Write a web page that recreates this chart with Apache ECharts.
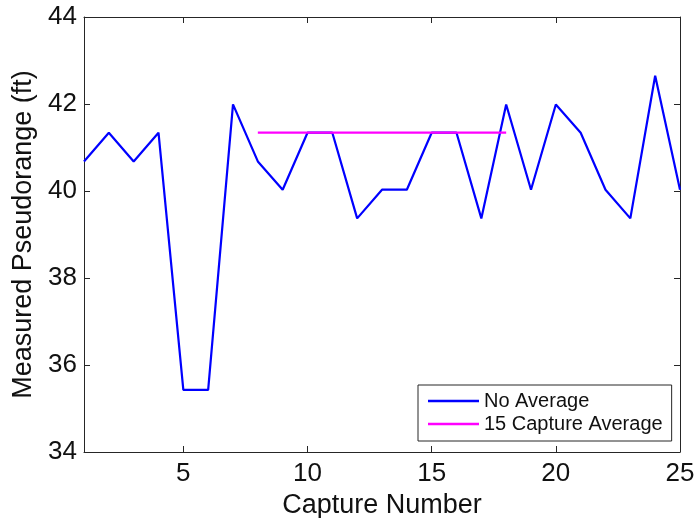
<!DOCTYPE html>
<html>
<head>
<meta charset="utf-8">
<script src="https://cdn.jsdelivr.net/npm/echarts@6/dist/echarts.min.js"></script>
<style>
  html, body { margin: 0; padding: 0; background: #fff; }
  #chart { width: 696px; height: 518px; }
</style>
</head>
<body>
<div id="chart"></div>
<script>
// Capture index and measured pseudorange per capture (ft)
const captureNumbers = [1, 2, 3, 4, 5, 6, 7, 8, 9, 10, 11, 12, 13, 14, 15, 16, 17, 18, 19, 20, 21, 22, 23, 24, 25];
const noAverage = [40.68, 41.34, 40.68, 41.34, 35.43, 35.43, 41.99, 40.68, 40.03, 41.34, 41.34, 39.37, 40.03,
                   40.03, 41.34, 41.34, 39.37, 41.99, 40.03, 41.99, 41.34, 40.03, 39.37, 42.65, 40.03];
// 15-capture average, drawn over its capture span
const averageCaptures = [8, 18];
const averageValues = [41.34, 41.34];
// Tick values
const xTicks = [5, 10, 15, 20, 25];
const yTicks = [34, 36, 38, 40, 42, 44];

const font = '"Liberation Sans", Arial, sans-serif';
const axisColor = '#262626';

const chart = echarts.init(document.getElementById('chart'), null, { renderer: 'canvas' });

const boxAxis = (extra) => Object.assign({
  axisLine: { show: true, onZero: false, lineStyle: { color: axisColor, width: 1 } },
  axisTick: { show: true, inside: true, length: 6, lineStyle: { color: axisColor, width: 1 } },
  splitLine: { show: false },
}, extra);

chart.setOption({
  backgroundColor: '#ffffff',
  animation: false,
  textStyle: { fontFamily: font },
  grid: { left: 84, right: 16, top: 17, bottom: 66, containLabel: false, outerBoundsMode: 'none' },
  legend: {
    orient: 'vertical',
    left: 418,
    top: 385,
    width: 254,
    padding: [6, 9, 7, 10],
    icon: 'rect',
    itemWidth: 51,
    itemHeight: 2.5,
    itemGap: 3,
    backgroundColor: '#ffffff',
    borderColor: axisColor,
    borderWidth: 1,
    borderRadius: 0,
    textStyle: { fontFamily: font, fontSize: 20, color: '#111', padding: [4, 0, 0, 0] },
    data: ['No Average', '15 Capture Average'],
  },
  xAxis: [
    boxAxis({
      type: 'value', min: 1, max: 25, position: 'bottom',
      name: 'Capture Number', nameLocation: 'middle', nameGap: 38,
      nameTextStyle: { fontFamily: font, fontSize: 27, color: '#111' },
      axisTick: { show: true, inside: true, length: 6, customValues: xTicks, lineStyle: { color: axisColor } },
      axisLabel: { show: true, customValues: xTicks, fontFamily: font, fontSize: 26, color: '#111', margin: 9 },
    }),
    boxAxis({
      type: 'value', min: 1, max: 25, position: 'top',
      axisTick: { show: true, inside: true, length: 6, customValues: xTicks, lineStyle: { color: axisColor } },
      axisLabel: { show: false, customValues: xTicks },
    }),
  ],
  yAxis: [
    boxAxis({
      type: 'value', min: 34, max: 44, interval: 2, position: 'left',
      name: 'Measured Pseudorange (ft)', nameLocation: 'middle', nameGap: 46,
      nameTextStyle: { fontFamily: font, fontSize: 27, color: '#111' },
      axisLabel: { show: true, fontFamily: font, fontSize: 26, color: '#111', margin: 7 },
    }),
    boxAxis({
      type: 'value', min: 34, max: 44, interval: 2, position: 'right',
      axisLabel: { show: false },
    }),
  ],
  series: [
    {
      name: 'No Average',
      type: 'line',
      xAxisIndex: 0, yAxisIndex: 0,
      symbol: 'none',
      lineStyle: { color: '#0000ff', width: 2.2 },
      itemStyle: { color: '#0000ff' },
      data: captureNumbers.map((c, i) => [c, noAverage[i]]),
    },
    {
      name: '15 Capture Average',
      type: 'line',
      xAxisIndex: 0, yAxisIndex: 0,
      symbol: 'none',
      lineStyle: { color: '#ff00ff', width: 2.2 },
      itemStyle: { color: '#ff00ff' },
      data: averageCaptures.map((c, i) => [c, averageValues[i]]),
    },
  ],
});
</script>
</body>
</html>
